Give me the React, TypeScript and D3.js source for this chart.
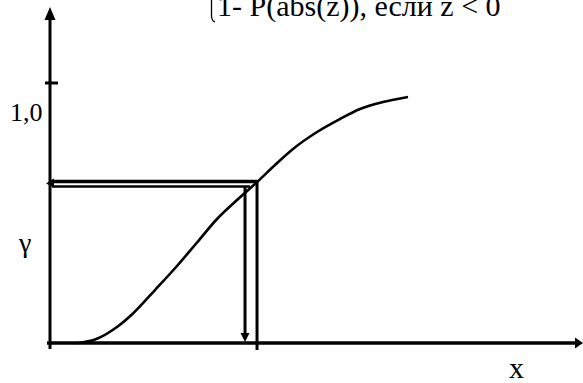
import React from "react";
import * as d3 from "d3";

// Curve (CDF-like), in axis units
const curveX = [0.528, 0.849, 1.264, 1.566, 1.981, 2.396, 2.774, 3.151, 3.528, 3.906, 4.245, 4.585, 5.038, 5.472, 5.849, 6.283, 6.755];
const curveY = [0, 0.0135, 0.0615, 0.1135, 0.2038, 0.2962, 0.3865, 0.4769, 0.55, 0.6192, 0.6846, 0.7462, 0.8115, 0.8615, 0.9, 0.9269, 0.9462];

// Marked level γ and the corresponding x
const markX = [3.906];
const markY = [0.617];

// Tick on the y axis
const yTicks = [1.0];
const yTickLabels = ["1,0"];

const titleText = "1- P(abs(z)), если z < 0";
const yLabel = "γ";
const xLabel = "x";

const W = 583;
const H = 383;

export default function App() {
  const x = d3.scaleLinear().domain([0, 10]).range([50, 580]);
  const y = d3.scaleLinear().domain([0, 1]).range([343, 83]);

  const pts: [number, number][] = curveX.map((v, i) => [x(v), y(curveY[i])]);
  const line = d3.line().curve(d3.curveMonotoneX)(pts) || "";

  const x0 = x(0);
  const y0 = y(0);
  const mx = x(markX[0]);
  const my = y(markY[0]);

  const fstyle = { fontFamily: "'Liberation Serif', 'DejaVu Serif', serif" };

  return (
    <svg
      width={W}
      height={H}
      style={{ position: "absolute", left: 0, top: 0, background: "#fff" }}
    >
      <rect width={W} height={H} fill="#fff" />
      {/* Title (cut off at top) */}
      <path
        d={`M211.5,0 L211.5,16 Q211.8,21 215,22`}
        fill="none"
        stroke="#000"
        strokeWidth={1.3}
      />
      <text x={217} y={16} style={{ ...fstyle, fontSize: 30 }} fill="#000">
        {titleText}
      </text>

      {/* Y axis */}
      <line x1={x0} y1={349} x2={x0} y2={17} stroke="#000" strokeWidth={3} />
      <path d={`M${x0},7 L${x0 - 5.5},20 L${x0 + 5.5},20 Z`} fill="#000" />
      {/* X axis */}
      <line x1={47} y1={y0} x2={575} y2={y0} stroke="#000" strokeWidth={3.5} />
      <path d={`M583,${y0} L575,${y0 - 5.5} L575,${y0 + 5.5} Z`} fill="#000" />

      {/* Y ticks */}
      {yTicks.map((t, i) => (
        <g key={i}>
          <line x1={x0 - 5} x2={x0 + 8} y1={y(t)} y2={y(t)} stroke="#000" strokeWidth={3} />
          <text x={10} y={y(t) + 38} style={{ ...fstyle, fontSize: 26 }} fill="#000">
            {yTickLabels[i]}
          </text>
        </g>
      ))}

      {/* Curve */}
      <path d={line} fill="none" stroke="#000" strokeWidth={2.6} />

      {/* Horizontal double line with arrow to y axis */}
      <line x1={x0} x2={mx} y1={my - 1} y2={my - 1} stroke="#000" strokeWidth={3.5} />
      <line x1={x0 + 2} x2={mx - 7} y1={my + 4} y2={my + 4} stroke="#000" strokeWidth={2.5} />
      <path
        d={`M${x0 - 4},${my + 1} L${x0 + 4},${my - 4} L${x0 + 4},${my + 5} Z`}
        fill="#000"
      />

      {/* Vertical double line with arrow to x axis */}
      <line x1={mx} x2={mx} y1={my - 2} y2={350} stroke="#000" strokeWidth={3} />
      <line x1={mx - 12} x2={mx - 12} y1={my + 4} y2={334} stroke="#000" strokeWidth={3} />
      <path
        d={`M${mx - 12},${y0 - 1} L${mx - 16.5},${y0 - 10} L${mx - 7.5},${y0 - 10} Z`}
        fill="#000"
      />

      {/* Axis labels */}
      <text x={19} y={252} style={{ ...fstyle, fontSize: 28 }} fill="#000">
        {yLabel}
      </text>
      <text x={509} y={378} style={{ ...fstyle, fontSize: 30 }} fill="#000">
        {xLabel}
      </text>
    </svg>
  );
}
